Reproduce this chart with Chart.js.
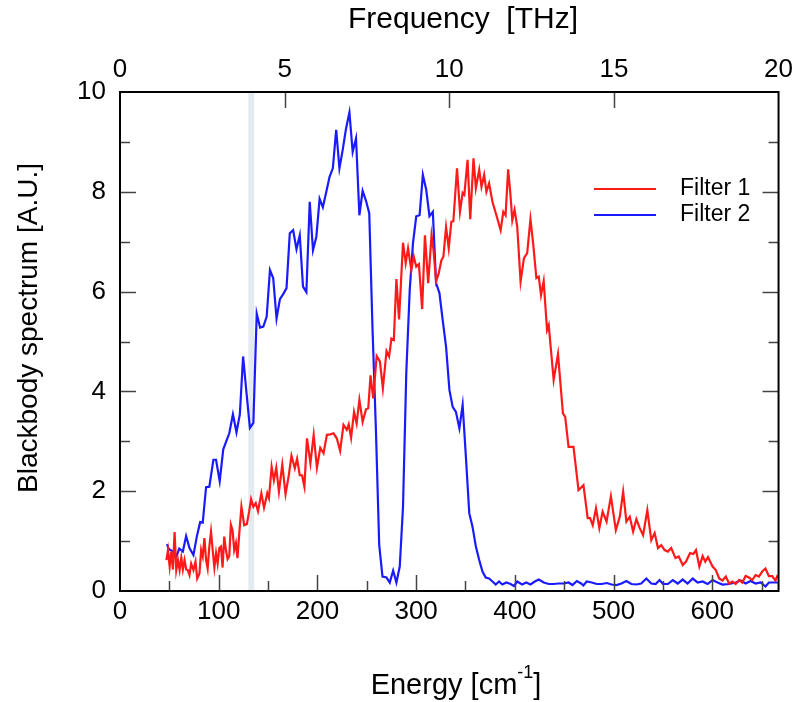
<!DOCTYPE html>
<html>
<head>
<meta charset="utf-8">
<script src="https://cdn.jsdelivr.net/npm/chart.js@4"></script>
<style>
  body { margin: 0; background: #fff; }
  canvas { display: block; }
</style>
</head>
<body>
<canvas id="myChart" width="800" height="702"></canvas>
<script>
// Filter 1 (red) - energy in cm-1, value in A.U.
const filter1Energy = [47, 48.6, 50.3, 52, 53.6, 55.3, 57, 58.7, 60.4, 62.1, 63.7, 65.4, 67.1, 68.7, 70.4, 72.1, 74.4, 76.5, 78.2, 80.5,
    82.2, 83.8, 85.5, 87.2, 88.8, 90.5, 92.2, 93.9, 95.6, 97.3, 98.9, 100.6, 102.3, 103.9, 105.6, 107.3, 109, 110.7, 112.3, 114,
    115.7, 117.4, 119, 120.7, 123, 125.8, 128.5, 130.8, 132.8, 135.1, 137.5, 139.8, 143.2, 145.9, 149.2, 150.9, 153.6, 155.9, 158.3, 161,
    164.4, 167.7, 171, 173.7, 177.1, 179.4, 182.1, 184.4, 186.8, 189.4, 192.9, 196.2, 199.5, 202.9, 206.2, 209.6, 213, 216.3, 219.6, 223,
    226.4, 229.7, 231.7, 234.1, 237.1, 239.7, 242.5, 245.8, 249.2, 251.5, 253.8, 256.5, 260, 263.3, 266.3, 270, 272.6, 275, 277.4, 280,
    282.7, 286.7, 289.4, 291.8, 295.1, 297.5, 300.1, 302.8, 306.1, 308.9, 312.2, 315.6, 317.6, 320.2, 322.9, 325.6, 327.6, 330.3, 333, 335.7,
    337.7, 341.4, 344.4, 347.1, 348.8, 352.1, 354.8, 358.1, 360.5, 363.9, 366.2, 368.9, 371.2, 373.9, 377.3, 381, 385.6, 388.3, 390.6, 393.2,
    395.5, 397.4, 399.7, 402.4, 405.8, 409.2, 412.5, 415.8, 418.5, 421.8, 424.2, 426.5, 429.2, 432.6, 434.3, 439.3, 443.7, 448.7, 451, 454.4,
    459.4, 464.5, 469.5, 473.8, 476.2, 478.9, 482.2, 485.6, 488.9, 492.9, 497.3, 502.3, 506.3, 509.7, 513, 516.4, 519.8, 523.1, 526.5, 529.9,
    534.2, 538.2, 541.6, 545, 548.3, 551.7, 555, 558.4, 562.7, 566, 570.1, 573.4, 577.5, 580.8, 583.5, 586.9, 590.2, 592.9, 595.6, 600.3,
    603.6, 607, 610.3, 613.7, 617, 620.4, 623.7, 627.1, 630.4, 633.8, 637.2, 640.5, 643.9, 647.2, 650.6, 653.9, 657.3, 660.7, 664, 666.3];
const filter1Value = [0.62, 0.82, 0.49, 0.79, 0.43, 1.18, 0.42, 0.62, 0.42, 0.67, 0.43, 0.62, 0.43, 0.42, 0.32, 0.55, 0.42, 0.59, 0.25, 0.35,
    0.82, 0.69, 1.06, 0.62, 0.45, 0.89, 1.19, 0.82, 0.47, 0.76, 0.55, 0.86, 0.89, 0.47, 1.09, 0.82, 0.64, 0.70, 1.33, 1.22,
    0.82, 0.96, 0.66, 1.12, 1.69, 1.32, 1.34, 1.59, 1.84, 1.69, 1.76, 1.60, 1.96, 1.67, 1.96, 1.86, 2.49, 2.22, 2.47, 1.99,
    2.53, 1.94, 2.32, 2.71, 2.46, 2.65, 2.32, 2.32, 2.09, 3.06, 2.56, 3.13, 2.47, 2.87, 2.76, 3.13, 3.14, 3.16, 3.06, 2.81,
    3.33, 3.23, 3.34, 3.07, 3.59, 3.36, 3.83, 3.39, 3.64, 3.66, 4.32, 3.86, 4.71, 4.60, 4.06, 4.81, 4.70, 5.06, 5.03, 6.25,
    5.44, 6.98, 6.57, 6.87, 6.43, 6.71, 6.50, 6.55, 5.65, 7.13, 6.17, 7.13, 6.83, 6.20, 6.37, 6.63, 6.70, 7.29, 6.87, 7.40,
    7.41, 8.47, 7.60, 7.98, 7.94, 8.64, 7.45, 8.67, 8.07, 8.44, 8.10, 8.34, 8.00, 8.17, 7.80, 7.55, 7.23, 7.60, 7.53, 8.45,
    7.95, 7.43, 7.64, 7.30, 6.20, 6.67, 6.77, 7.45, 6.97, 6.27, 6.30, 5.93, 6.21, 5.23, 5.33, 4.23, 4.75, 3.56, 3.49, 2.89,
    2.89, 2.02, 2.12, 1.46, 1.46, 1.32, 1.66, 1.26, 1.59, 1.39, 1.90, 1.22, 1.49, 1.99, 1.39, 1.49, 1.19, 1.44, 1.26, 1.12,
    1.62, 1.02, 1.16, 0.86, 0.92, 0.82, 0.79, 0.86, 0.66, 0.69, 0.52, 0.59, 0.76, 0.74, 0.82, 0.49, 0.70, 0.59, 0.68, 0.49,
    0.42, 0.25, 0.21, 0.29, 0.15, 0.19, 0.14, 0.22, 0.17, 0.30, 0.27, 0.22, 0.32, 0.29, 0.39, 0.45, 0.30, 0.30, 0.21, 0.32];

// Filter 2 (blue)
const filter2Energy = [47.6, 49.3, 52, 54.6, 57.3, 60, 63.7, 67, 70.4, 74.4, 77.8, 81.2, 83.8, 87.2, 90.5, 94.6, 97.3, 101, 104.6, 110.7,
    114.4, 118, 121.4, 124.7, 128, 131.6, 135.1, 138.5, 141.9, 145.2, 148.6, 151.9, 155.2, 158.6, 162, 165.3, 168.7, 172, 175.4, 178.8,
    182.1, 185.4, 188.8, 192.2, 195.5, 198.9, 202.2, 205.5, 209, 212.3, 215.6, 219, 222.3, 225.6, 229, 232.4, 235.7, 239.1, 242.5, 245.8,
    249.2, 252.5, 255.8, 259.2, 262.6, 265.9, 270, 273.3, 276.7, 280, 283.4, 286.7, 290, 293.5, 296.8, 300.1, 303.5, 306.8, 310.2, 313.5,
    316.9, 320.2, 323.6, 326.9, 330.3, 333.7, 337, 340.3, 343.8, 347.1, 350.4, 353.8, 357.1, 360.5, 363.9, 367.2, 370.5, 373.9, 377.3, 380.6,
    384, 387.3, 391.3, 395.7, 399, 402.4, 407.4, 411.5, 415.8, 420.2, 424.2, 429.3, 434.3, 439.3, 444.4, 449.4, 454.4, 458.4, 462.8, 467.1,
    469.4, 472.8, 477.9, 482.9, 487.9, 493, 498, 503, 508, 513, 518, 523, 528, 533.2, 538.2, 542.6, 546.6, 550, 555, 560,
    565, 570, 575, 580.2, 585.2, 590.2, 595.2, 600.3, 605.3, 610.3, 617, 623.7, 628.8, 633.8, 638.8, 643.9, 648.9, 653.9, 657.3, 662.3, 666.3];
const filter2Value = [0.94, 0.84, 0.81, 0.79, 0.70, 0.85, 0.79, 1.10, 0.86, 0.72, 1.09, 1.38, 1.37, 2.08, 2.09, 2.63, 2.63, 2.20, 2.84, 3.16,
    3.54, 3.18, 3.54, 4.70, 4.00, 3.27, 3.37, 5.56, 5.28, 5.30, 5.50, 6.43, 6.27, 5.46, 5.85, 5.95, 6.07, 7.17, 7.23, 6.85,
    7.13, 6.10, 5.99, 7.80, 6.83, 7.10, 7.86, 7.69, 8.00, 8.30, 8.47, 9.24, 8.47, 8.84, 9.27, 9.59, 8.80, 9.07, 7.53, 8.02,
    7.82, 7.57, 5.26, 3.26, 0.92, 0.29, 0.27, 0.17, 0.41, 0.17, 0.49, 1.69, 4.36, 6.03, 6.97, 7.51, 7.53, 8.34, 8.04, 7.51,
    7.60, 6.17, 5.97, 5.43, 4.90, 4.03, 3.69, 3.59, 3.26, 3.73, 2.69, 1.56, 1.29, 0.89, 0.62, 0.39, 0.27, 0.25, 0.19, 0.13,
    0.19, 0.13, 0.17, 0.14, 0.10, 0.19, 0.13, 0.17, 0.13, 0.19, 0.23, 0.17, 0.14, 0.14, 0.15, 0.15, 0.17, 0.12, 0.20, 0.15,
    0.11, 0.19, 0.17, 0.14, 0.14, 0.16, 0.13, 0.12, 0.15, 0.20, 0.14, 0.13, 0.15, 0.25, 0.15, 0.14, 0.22, 0.14, 0.14, 0.22,
    0.15, 0.23, 0.15, 0.25, 0.17, 0.19, 0.14, 0.22, 0.17, 0.13, 0.14, 0.17, 0.21, 0.15, 0.20, 0.15, 0.17, 0.09, 0.17, 0.17, 0.17];

// Axis ticks
const energyTicks = [0, 100, 200, 300, 400, 500, 600];
const freqTicks = [0, 5, 10, 15, 20];
const valueTicks = [0, 2, 4, 6, 8, 10];

const maxFreq = 20;                  // THz
const maxEnergy = maxFreq * 33.356;  // same range in cm-1
const bandStart = 130;               // shaded band, cm-1
const bandEnd = 136;

const seriesNames = ["Filter 1", "Filter 2"];
const seriesColors = ["#ff1a1a", "#1a1aff"];

const FONT = "'Liberation Sans', Arial, sans-serif";
Chart.defaults.font.family = FONT;
Chart.defaults.color = "#000";

function toPoints(xs, ys) {
    return xs.map((x, i) => ({ x: x, y: ys[i] }));
}

// band, frame, inward ticks, titles and legend
const decorations = {
    id: "decorations",
    beforeDatasetsDraw(chart) {
        const { ctx, chartArea: a, scales } = chart;
        const x0 = scales.x.getPixelForValue(bandStart);
        const x1 = scales.x.getPixelForValue(bandEnd);
        ctx.save();
        ctx.fillStyle = "#e3ebef";
        ctx.fillRect(x0, a.top, x1 - x0, a.bottom - a.top);
        ctx.restore();
    },
    afterDraw(chart) {
        const { ctx, chartArea: a, scales } = chart;
        ctx.save();

        // tick marks pointing inward
        ctx.strokeStyle = "#444";
        ctx.lineWidth = 1.5;
        ctx.beginPath();
        for (let v = 50; v < maxEnergy; v += 50) {
            const px = Math.round(scales.x.getPixelForValue(v)) + 0.5;
            const len = v % 100 === 0 ? 16 : 10;
            ctx.moveTo(px, a.bottom);
            ctx.lineTo(px, a.bottom - len);
        }
        for (let v = 5; v < maxFreq; v += 5) {
            const px = Math.round(scales.x2.getPixelForValue(v)) + 0.5;
            ctx.moveTo(px, a.top);
            ctx.lineTo(px, a.top + 16);
        }
        for (let v = 1; v < 10; v++) {
            const py = Math.round(scales.y.getPixelForValue(v)) + 0.5;
            const len = v % 2 === 0 ? 16 : 10;
            ctx.moveTo(a.left, py);
            ctx.lineTo(a.left + len, py);
            ctx.moveTo(a.right, py);
            ctx.lineTo(a.right - len, py);
        }
        ctx.stroke();

        // frame
        ctx.strokeStyle = "#000";
        ctx.lineWidth = 2;
        ctx.strokeRect(a.left, a.top, a.right - a.left, a.bottom - a.top);

        // axis titles
        ctx.fillStyle = "#000";
        ctx.textBaseline = "middle";
        ctx.textAlign = "center";
        ctx.font = "30px " + FONT;
        ctx.fillText("Frequency  [THz]", 463, 20);

        ctx.font = "28px " + FONT;
        ctx.save();
        ctx.translate(29, 328);
        ctx.rotate(-Math.PI / 2);
        ctx.fillText("Blackbody spectrum [A.U.]", 0, 0);
        ctx.restore();

        // Energy [cm^-1]
        const main = "Energy [cm";
        const sup = "-1";
        ctx.font = "29px " + FONT;
        const w1 = ctx.measureText(main).width;
        const w3 = ctx.measureText("]").width;
        ctx.font = "18px " + FONT;
        const w2 = ctx.measureText(sup).width;
        let tx = 456 - (w1 + w2 + w3) / 2;
        ctx.textAlign = "left";
        ctx.font = "29px " + FONT;
        ctx.fillText(main, tx, 686);
        ctx.font = "18px " + FONT;
        ctx.fillText(sup, tx + w1, 673);
        ctx.font = "29px " + FONT;
        ctx.fillText("]", tx + w1 + w2, 686);

        // legend
        ctx.font = "23px " + FONT;
        const rows = [189, 215];
        seriesNames.forEach((name, i) => {
            ctx.strokeStyle = seriesColors[i];
            ctx.lineWidth = 2;
            ctx.beginPath();
            ctx.moveTo(594, rows[i]);
            ctx.lineTo(656, rows[i]);
            ctx.stroke();
            ctx.fillText(name, 680, rows[i]);
        });

        ctx.restore();
    }
};

const tickFont = { size: 26 };
const noGrid = { display: false, drawTicks: false };

new Chart(document.getElementById("myChart"), {
    type: "line",
    data: {
        datasets: [
            { label: seriesNames[0], data: toPoints(filter1Energy, filter1Value), borderColor: seriesColors[0], borderWidth: 2.2, pointRadius: 0, tension: 0, xAxisID: "x", yAxisID: "y" },
            { label: seriesNames[1], data: toPoints(filter2Energy, filter2Value), borderColor: seriesColors[1], borderWidth: 2.2, pointRadius: 0, tension: 0, xAxisID: "x", yAxisID: "y" }
        ]
    },
    options: {
        responsive: false,
        animation: false,
        layout: { padding: { right: 17, top: 0, left: 0, bottom: 0 } },
        plugins: { legend: { display: false }, tooltip: { enabled: false } },
        scales: {
            x: {
                type: "linear", position: "bottom", min: 0, max: maxEnergy,
                afterBuildTicks: s => { s.ticks = energyTicks.map(v => ({ value: v })); },
                afterFit: s => { s.height = 111; },
                ticks: { font: tickFont, padding: 5, maxRotation: 0, autoSkip: false },
                grid: noGrid, border: { display: false }
            },
            x2: {
                type: "linear", position: "top", min: 0, max: maxFreq,
                afterBuildTicks: s => { s.ticks = freqTicks.map(v => ({ value: v })); },
                afterFit: s => { s.height = 92; },
                ticks: { font: tickFont, padding: 7, maxRotation: 0, autoSkip: false },
                grid: noGrid, border: { display: false }
            },
            y: {
                type: "linear", position: "left", min: 0, max: 10,
                afterBuildTicks: s => { s.ticks = valueTicks.map(v => ({ value: v })); },
                afterFit: s => { s.width = 120; },
                ticks: { font: tickFont, padding: 14 },
                grid: noGrid, border: { display: false }
            }
        }
    },
    plugins: [decorations]
});
</script>
</body>
</html>
